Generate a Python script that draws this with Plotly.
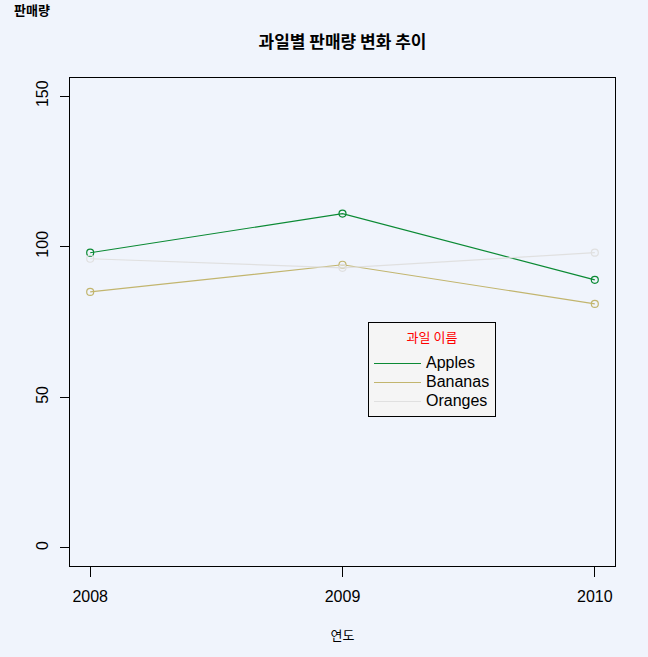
import plotly.graph_objects as go

years = [2008, 2009, 2010]
fruits = ["Apples", "Bananas", "Oranges"]
apples = [98, 111, 89]
bananas = [85, 94, 81]
oranges = [96, 93, 98]
series = [apples, bananas, oranges]
colors = ["#0B8A34", "#C2B56E", "#E0E0E0"]
y_ticks = [0, 50, 100, 150]

BG = "#F0F4FC"
KR = "Noto Sans CJK KR"
LAT = "Liberation Sans, Arial, sans-serif"

fig = go.Figure()
for name, vals, col in zip(fruits, series, colors):
    fig.add_trace(go.Scatter(
        x=years, y=vals, mode="lines+markers", name=name, showlegend=False,
        line=dict(color=col, width=1.2),
        marker=dict(symbol="circle-open", size=7, color=col, line=dict(width=1.2, color=col)),
    ))
for name, col in zip(fruits, colors):
    fig.add_trace(go.Scatter(
        x=[None], y=[None], mode="lines",
        name='<span style="font-size:16px">' + name + "</span>", showlegend=True,
        line=dict(color=col, width=1.2),
    ))

fig.update_layout(
    width=648, height=657,
    margin=dict(l=70, r=33, t=78, b=91),
    paper_bgcolor=BG, plot_bgcolor=BG,
    font=dict(family=LAT, size=16, color="black"),
    title=dict(text="<b>과일별 판매량 변화 추이</b>", x=(70 + 615) / 2 / 648, xanchor="center",
               y=1 - 42 / 657, yanchor="middle",
               font=dict(family=KR, size=17, color="black")),
    xaxis=dict(range=[2008 - 0.08, 2010 + 0.08], tickvals=years, ticktext=[str(y) for y in years],
               showgrid=False, zeroline=False, showline=True, linecolor="black", linewidth=1,
               mirror=True, ticks="outside", ticklen=10, tickwidth=1, tickcolor="black",
               tickfont=dict(family=LAT, size=16), ticklabelstandoff=6,
               title=dict(text="연도", font=dict(family=KR, size=13), standoff=26)),
    yaxis=dict(range=[-6, 156], tickvals=y_ticks, ticktext=[str(v) for v in y_ticks],
               showgrid=False, zeroline=False, showline=True, linecolor="black", linewidth=1,
               mirror=True, ticks="outside", ticklen=9, tickwidth=1, tickcolor="black",
               tickangle=-90, tickfont=dict(family=LAT, size=16), ticklabelstandoff=6),
    legend=dict(
        x=(368 - 70) / 545, y=1 - (322 - 78) / 488, xanchor="left", yanchor="top",
        bgcolor="#F5F5F5", bordercolor="black", borderwidth=1,
        font=dict(family=LAT, size=12.3, color="black"),
        title=dict(text='<span style="font-size:13px;baseline-shift:7px">과일 이름</span>',
                   side="top center", font=dict(family=KR, size=20, color="red")),
        itemwidth=47, tracegroupgap=0,
    ),
    annotations=[dict(text="<b>판매량</b>", xref="paper", yref="paper",
                      x=-70 / 545 + 12 / 545, y=1 + (78 - 10) / 488, xanchor="left", yanchor="middle",
                      showarrow=False, font=dict(family=KR, size=13, color="black"))],
)

fig.write_html(
    "out.html",
    config={"displayModeBar": False},
    post_script="document.body.style.margin='0';document.body.style.overflow='hidden';"
                "document.body.style.background='" + BG + "';",
)
